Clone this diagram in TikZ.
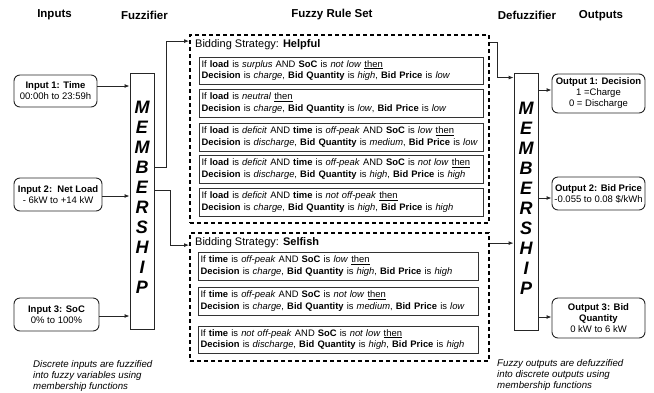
\documentclass[tikz,border=0pt]{standalone}
\usepackage{fontspec}
\setmainfont{Liberation Sans}
\usetikzlibrary{arrows.meta}
\begin{document}
\begin{tikzpicture}[x=1pt,y=-1pt,
  hdr/.style={font=\fontsize{11.5}{13}\selectfont\bfseries, inner sep=0pt},
  iobox/.style={draw=black!85, line width=0.9pt, rounded corners=6pt, align=center,
    font=\fontsize{9.5}{11}\selectfont, inner sep=0pt},
  memb/.style={draw=black!85, line width=0.9pt, minimum width=24pt, inner sep=0pt},
  membtxt/.style={font=\fontsize{18}{20}\selectfont\bfseries\itshape, align=center, inner sep=0pt},
  group/.style={draw=black, line width=1.8pt, dash pattern=on 4pt off 3pt, inner sep=0pt},
  gtitle/.style={font=\fontsize{11}{13}\selectfont, anchor=west, inner sep=0pt},
  rulebox/.style={draw=black!80, line width=0.9pt, inner xsep=2.5pt, inner ysep=0pt,
    align=left, font=\fontsize{9.4}{11.6}\selectfont},
  arr/.style={draw=black!85, line width=0.9pt, -{Latex[length=5pt,width=4pt]}},
  note/.style={font=\fontsize{9.7}{11}\selectfont\itshape, align=left,
    anchor=north west, inner sep=0pt}
]
\useasboundingbox (0,0) rectangle (654,392);

% column headers
\node[hdr] (hIn)  at (54.5,15) {Inputs};
\node[hdr] (hFz)  at (144.5,15) {Fuzzifier};
\node[hdr] (hRs)  at (332,15) {Fuzzy Rule Set};
\node[hdr] (hDf)  at (527,15) {Defuzzifier};
\node[hdr] (hOut) at (601,16) {Outputs};

% inputs
\node[iobox, minimum width=83pt, minimum height=32pt] (in1) at (55.5,91)
  {\textbf{Input 1: Time}\\00:00h to 23:59h};
\node[iobox, minimum width=88pt, minimum height=33pt] (in2) at (58,194.5)
  {\textbf{Input 2:\ \ Net Load}\\- 6kW to +14 kW};
\node[iobox, minimum width=85pt, minimum height=33pt] (in3) at (56.5,314.5)
  {\textbf{Input 3: SoC}\\0\% to 100\%};

% fuzzifier
\node[memb, minimum height=256pt] (mem1) at (142,201) {};
\node[membtxt] (mem1t) at (142,197.5) {M\\E\\M\\B\\E\\R\\S\\H\\I\\P};

% rule set groups
\node[group, minimum width=299pt, minimum height=188pt] (helpful) at (339.5,129) {};
\node[gtitle] (helpfulT) at (195,45) {Bidding Strategy: \textbf{Helpful}};
\node[group, minimum width=299pt, minimum height=128pt] (selfish) at (339.5,297) {};
\node[gtitle] (selfishT) at (195,243) {Bidding Strategy: \textbf{Selfish}};

% helpful rules
\node[rulebox, text width=279pt, minimum height=27pt] (r1) at (341,70.5)
  {If \textbf{load} is \textit{surplus} AND \textbf{SoC} is \textit{not low} \underline{then}\\
   \textbf{Decision} is \textit{charge}, \textbf{Bid Quantity} is \textit{high}, \textbf{Bid Price} is \textit{low}};
\node[rulebox, text width=279pt, minimum height=28pt] (r2) at (341,103)
  {If \textbf{load} is \textit{neutral} \underline{then}\\
   \textbf{Decision} is \textit{charge}, \textbf{Bid Quantity} is \textit{low}, \textbf{Bid Price} is \textit{low}};
\node[rulebox, text width=279pt, minimum height=28pt] (r3) at (341,137)
  {If \textbf{load} is \textit{deficit} AND \textbf{time} is \textit{off-peak} AND \textbf{SoC} is \textit{low} \underline{then}\\
   \mbox{\textbf{Decision} is \textit{discharge}, \textbf{Bid Quantity} is \textit{medium}, \textbf{Bid Price} is \textit{low}}};
\node[rulebox, text width=279pt, minimum height=28pt] (r4) at (341,169)
  {If \textbf{load} is \textit{deficit} AND \textbf{time} is \textit{off-peak} AND \textbf{SoC} is \textit{not low} \underline{then}\\
   \textbf{Decision} is \textit{discharge}, \textbf{Bid Quantity} is \textit{high}, \textbf{Bid Price} is \textit{high}};
\node[rulebox, text width=279pt, minimum height=28pt] (r5) at (341,202)
  {If \textbf{load} is \textit{deficit} AND \textbf{time} is \textit{not off-peak} \underline{then}\\
   \textbf{Decision} is \textit{charge}, \textbf{Bid Quantity} is \textit{high}, \textbf{Bid Price} is \textit{high}};

% selfish rules
\node[rulebox, text width=275pt, minimum height=28pt] (s1) at (338,266)
  {If \textbf{time} is \textit{off-peak} AND \textbf{SoC} is \textit{low} \underline{then}\\
   \textbf{Decision} is \textit{charge}, \textbf{Bid Quantity} is \textit{high}, \textbf{Bid Price} is \textit{high}};
\node[rulebox, text width=275pt, minimum height=28pt] (s2) at (338,301)
  {If \textbf{time} is \textit{off-peak} AND \textbf{SoC} is \textit{not low} \underline{then}\\
   \textbf{Decision} is \textit{charge}, \textbf{Bid Quantity} is \textit{medium}, \textbf{Bid Price} is \textit{low}};
\node[rulebox, text width=275pt, minimum height=27pt] (s3) at (338,339.5)
  {If \textbf{time} is \textit{not off-peak} AND \textbf{SoC} is \textit{not low} \underline{then}\\
   \textbf{Decision} is \textit{discharge}, \textbf{Bid Quantity} is \textit{high}, \textbf{Bid Price} is \textit{high}};

% defuzzifier
\node[memb, minimum height=257pt] (mem2) at (526,201.5) {};
\node[membtxt] (mem2t) at (526,198.5) {M\\E\\M\\B\\E\\R\\S\\H\\I\\P};

% outputs
\node[iobox, minimum width=93pt, minimum height=39pt] (out1) at (598.5,93.5)
  {\textbf{Output 1: Decision}\\1 =Charge\\0 = Discharge};
\node[iobox, minimum width=93pt, minimum height=33pt] (out2) at (598.5,193.5)
  {\textbf{Output 2: Bid Price}\\-0.055 to 0.08 \$/kWh};
\node[iobox, minimum width=93pt, minimum height=40pt] (out3) at (598.5,318)
  {\textbf{Output 3: Bid}\\\textbf{Quantity}\\0 kW to 6 kW};

% inputs into the fuzzifier
\coordinate (i1) at ([yshift=5pt]in1.east);
\draw[arr] (i1) -- (i1 -| mem1.west);
\coordinate (i2) at ([yshift=-1.5pt]in2.east);
\draw[arr] (i2) -- (i2 -| mem1.west);
\coordinate (i3) at ([yshift=-1.5pt]in3.east);
\draw[arr] (i3) -- (i3 -| mem1.west);

% fuzzifier into the rule sets
\draw[arr] ([yshift=-95pt]mem1.north east) -- ++(12pt,0) |- ([yshift=-7pt]helpful.north west);
\draw[arr] ([yshift=-118pt]mem1.north east) -- ++(16pt,0) |- ([yshift=-13pt]selfish.north west);

% rule sets into the defuzzifier
\draw[arr] ([yshift=-8pt]helpful.north east) -- ++(8pt,0) |- ([yshift=-5pt]mem2.north west);
\coordinate (sR) at ([yshift=-11pt]selfish.north east);
\draw[arr] (sR) -- (sR -| mem2.west);

% defuzzifier into the outputs
\coordinate (o1) at ([yshift=3.5pt]out1.west);
\draw[arr] (o1 -| mem2.east) -- (o1);
\coordinate (o2) at ([yshift=-4.5pt]out2.west);
\draw[arr] (o2 -| mem2.east) -- (o2);
\coordinate (o3) at ([yshift=1pt]out3.west);
\draw[arr] (o3 -| mem2.east) -- (o3);

% notes
\node[note] (noteL) at (33,360) {Discrete inputs are fuzzified\\into fuzzy variables using\\membership functions};
\node[note] (noteR) at (497,359) {Fuzzy outputs are defuzzified\\into discrete outputs using\\membership functions};
\end{tikzpicture}
\end{document}
